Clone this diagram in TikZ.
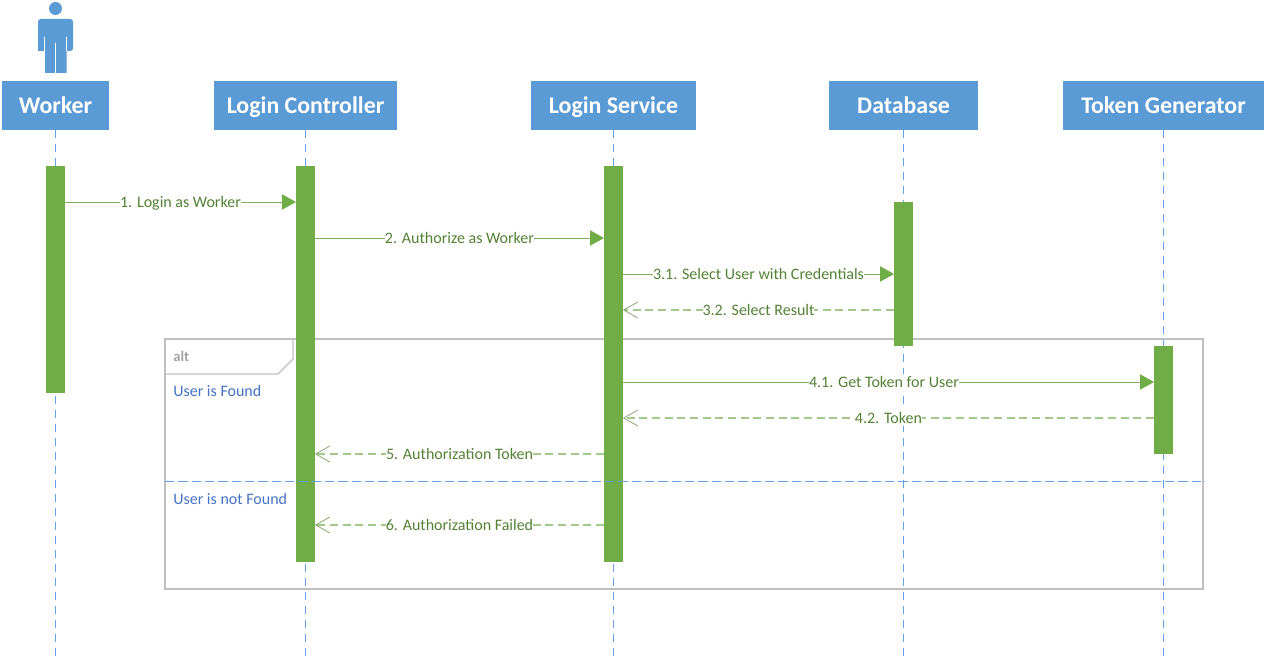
\documentclass[tikz,border=0pt]{standalone}
\usepackage{fontspec}
\setmainfont{Carlito}
\usetikzlibrary{arrows.meta}
\definecolor{hdr}{HTML}{5B9BD5}
\definecolor{bar}{HTML}{70AD47}
\definecolor{msgtxt}{HTML}{548235}
\definecolor{msgline}{HTML}{7FB05C}
\definecolor{retline}{HTML}{A3C98A}
\definecolor{lifelinecolor}{RGB}{100,160,240}
\definecolor{framec}{HTML}{C0C0C0}
\definecolor{guard}{HTML}{4472C4}
\tikzset{
  x=0.75pt,y=-0.75pt,
  header/.style={fill=hdr,text=white,font=\fontsize{17.9pt}{20pt}\bfseries,inner sep=0pt,outer sep=0pt,anchor=north west,text height=14pt,text depth=2pt,minimum height=36.75pt},
  lifeline/.style={draw=lifelinecolor,line width=0.85pt,dash pattern=on 6pt off 4.5pt,-{Bar[width=0.5pt,line width=0.1pt]}},
  divider/.style={draw=lifelinecolor,line width=0.85pt,dash pattern=on 7pt off 3pt,-{Bar[width=0.5pt,line width=0.1pt]}},
  activation/.style={fill=bar,inner sep=0pt,outer sep=0pt,anchor=north west,minimum width=14.25pt},
  call/.style={draw=msgline,line width=0.65pt,-{Triangle[fill=bar,color=bar,length=10.5pt,width=11.5pt]}},
  reply/.style={draw=retline,line width=0.8pt,dash pattern=on 6pt off 3.5pt,-{Straight Barb[length=10.5pt,width=12pt,line width=0.55pt,color=msgline!70!gray]}},
  msg/.style={fill=white,text=msgtxt,font=\fontsize{12pt}{14pt}\selectfont,inner sep=0pt,text height=10pt,text depth=2.5pt},
  guardtxt/.style={text=guard,font=\fontsize{12pt}{14pt}\selectfont,inner sep=0pt,anchor=west},
  framebox/.style={draw=framec,line width=0.85pt},
  slit/.style={draw=white,line width=0.5pt},
}
\begin{document}
\begin{tikzpicture}
\useasboundingbox (0,0) rectangle (1266,656);
% actor
\fill[hdr] (55.5,8.5) circle (6.5*0.75pt);
\fill[hdr,rounded corners=2pt] (38,51) -- (38,19) -- (73,19) -- (73,51) [sharp corners] -- (66.5,51) -- (66.5,73) -- (45,73) -- (45,51) -- cycle;
\draw[slit] (44.5,37) -- (44.5,51);
\draw[slit] (66.5,37) -- (66.5,51);
\draw[slit] (55.5,43) -- (55.5,73);
% headers
\node[header,minimum width=80.25pt] (worker) at (2,81) {Worker};
\node[header,minimum width=137.25pt] (ctrl) at (214,81) {Login Controller};
\node[header,minimum width=123.75pt] (serv) at (531,81) {Login Service};
\node[header,minimum width=111.75pt] (db) at (829,81) {Database};
\node[header,minimum width=150.75pt] (tok) at (1063,81) {Token Generator};
% lifeline ends
\coordinate (we) at (55.5,656);
\coordinate (ce) at (305.5,656);
\coordinate (se) at (613.5,656);
\coordinate (de) at (903.5,656);
\coordinate (te) at (1163.5,656);
\draw[lifeline] (worker.south -| we) -- (we);
\draw[lifeline] (ctrl.south -| ce) -- (ce);
\draw[lifeline] (serv.south -| se) -- (se);
\draw[lifeline] (db.south -| de) -- (de);
\draw[lifeline] (tok.south -| te) -- (te);
% alt frame
\draw[framebox] (165,339) rectangle (1203,589);
\draw[framebox] (293,339) -- (293,359) -- (278,374) -- (165,374);
\node[text=framec!85!black,font=\fontsize{11pt}{13pt}\bfseries,inner sep=0pt,anchor=west] (alt) at (173,356) {alt};
\node[guardtxt] (found) at (173,391) {User is Found};
\node[guardtxt] (notfound) at (173,499) {User is not Found};
% activations
\node[activation,minimum height=170.25pt] (wa) at (46,166) {};
\node[activation,minimum height=297pt] (ca) at (296,166) {};
\node[activation,minimum height=297pt] (sa) at (604,166) {};
\node[activation,minimum height=108pt] (da) at (894,202) {};
\node[activation,minimum height=81pt] (ta) at (1154,346) {};
% divider
\coordinate (dl) at (165,481.5);
\coordinate (dr) at (1203,481.5);
\draw[divider] (dl) -- (dr);
% messages
\coordinate (y1) at (0,202);
\coordinate (y2) at (0,238);
\coordinate (y3) at (0,274);
\coordinate (y4) at (0,310);
\coordinate (y5) at (0,382);
\coordinate (y6) at (0,418);
\coordinate (y7) at (0,454);
\coordinate (y8) at (0,525);
\draw[call] (wa.east |- y1) -- node[msg,pos=0.5]{1. Login as Worker} (ca.west |- y1);
\draw[call] (ca.east |- y2) -- node[msg,pos=0.5]{2. Authorize as Worker} (sa.west |- y2);
\draw[call] (sa.east |- y3) -- node[msg,pos=0.5]{3.1. Select User with Credentials} (da.west |- y3);
\draw[reply] (da.west |- y4) -- node[msg,pos=0.5]{3.2. Select Result} (sa.east |- y4);
\draw[call] (sa.east |- y5) -- node[msg,pos=0.4915]{4.1. Get Token for User} (ta.west |- y5);
\draw[reply] (ta.west |- y6) -- node[msg,pos=0.5]{4.2. Token} (sa.east |- y6);
\draw[reply] (sa.west |- y7) -- node[msg,pos=0.5]{5. Authorization Token} (ca.east |- y7);
\draw[reply] (sa.west |- y8) -- node[msg,pos=0.5]{6. Authorization Failed} (ca.east |- y8);
\end{tikzpicture}
\end{document}
